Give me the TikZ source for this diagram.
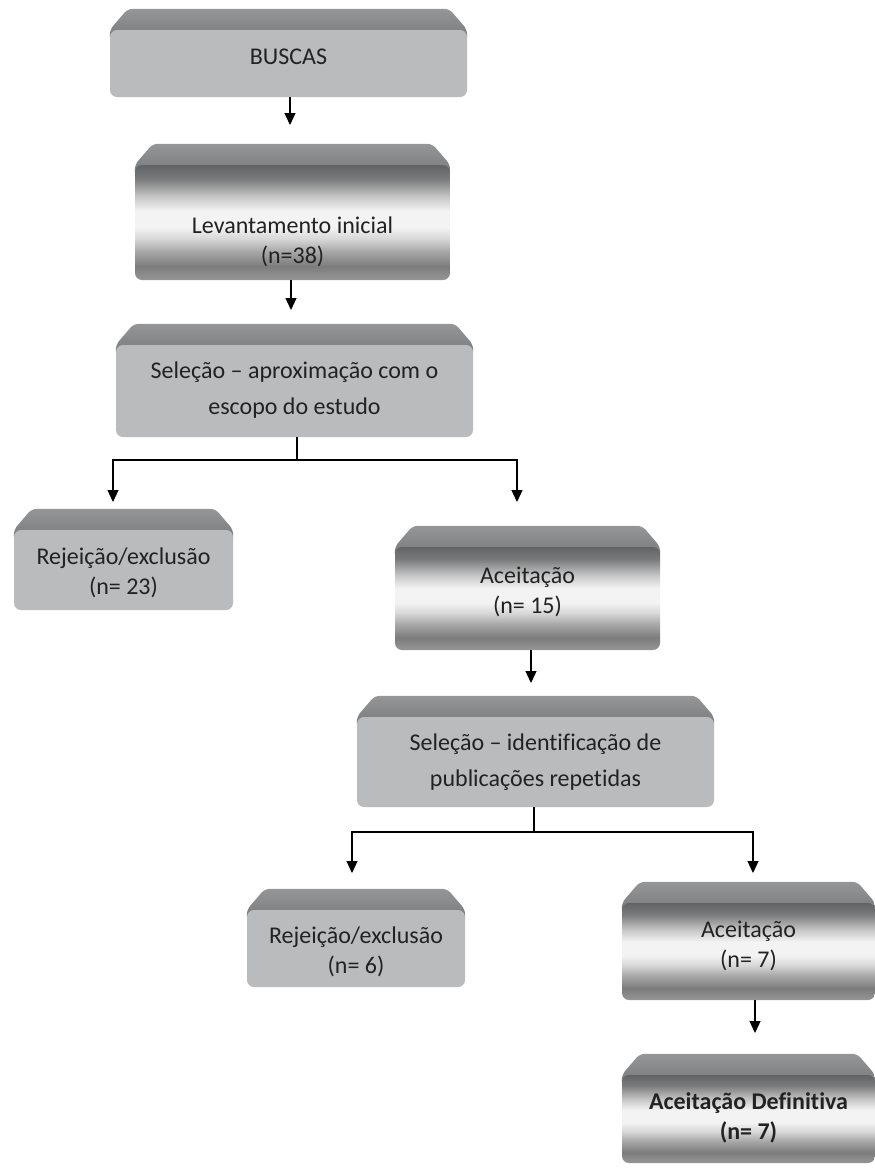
\documentclass[tikz,border=0pt]{standalone}
\usepackage{fontspec}
\setmainfont{Carlito}[Ligatures=NoCommon]
\usetikzlibrary{arrows.meta,backgrounds}
\definecolor{flatfill}{RGB}{185,187,188}
\definecolor{bevtop}{RGB}{148,150,152}
\definecolor{bevbot}{RGB}{118,120,122}
\definecolor{txtc}{RGB}{34,34,34}
\definecolor{ga}{RGB}{98,99,100}
\definecolor{gb}{RGB}{122,123,124}
\definecolor{gc}{RGB}{200,200,200}
\definecolor{gd}{RGB}{243,243,243}
\definecolor{ge}{RGB}{216,216,216}
\definecolor{gf}{RGB}{168,168,168}
\definecolor{gg}{RGB}{124,124,124}
\definecolor{gh}{RGB}{150,150,150}
\pgfdeclareverticalshading{gloss}{100bp}{color(0bp)=(gh); color(25bp)=(gh); color(31bp)=(gg); color(37.5bp)=(gf); color(43bp)=(ge); color(48bp)=(gd); color(55bp)=(gd); color(61bp)=(gc); color(69bp)=(gb); color(75bp)=(ga); color(100bp)=(ga)}
\tikzset{
  flatbox/.style={fill=flatfill, rounded corners=7pt, inner sep=0pt},
  glossbox/.style={shade, shading=gloss, rounded corners=7pt, inner sep=0pt},
  txt/.style={text=txtc, align=center, font=\fontsize{24}{29.5}\selectfont, inner sep=0pt},
  conn/.style={line width=1.2pt, black},
  arr/.style={conn, -{Triangle[length=12pt,width=11pt]}},
  bevelshade/.style={top color=bevtop, bottom color=bevbot, rounded corners=5pt}
}
\newcommand\bevelof[1]{%
  \begin{pgfonlayer}{background}
  \shade[bevelshade] ([yshift=-12pt]#1.north west) -- (#1.north west)
    -- ([xshift=18pt,yshift=21pt]#1.north west) -- ([xshift=-18pt,yshift=21pt]#1.north east)
    -- (#1.north east) -- ([yshift=-12pt]#1.north east) -- cycle;
  \end{pgfonlayer}}
\begin{document}
\begin{tikzpicture}[x=1pt,y=-1pt]
\useasboundingbox (0,0) rectangle (875,1168);
% boxes (front faces)
\node[flatbox,  minimum width=357pt, minimum height=67pt]  (b1) at (288.5,63.5) {};
\node[glossbox, minimum width=315pt, minimum height=115pt] (b2) at (292.5,222.5) {};
\node[flatbox,  minimum width=357pt, minimum height=92pt]  (b3) at (294.5,391) {};
\node[flatbox,  minimum width=219pt, minimum height=80pt]  (b4) at (123.5,570) {};
\node[glossbox, minimum width=265pt, minimum height=103pt] (b5) at (527.5,598.5) {};
\node[flatbox,  minimum width=357pt, minimum height=90pt]  (b6) at (535.5,762) {};
\node[flatbox,  minimum width=218pt, minimum height=77pt]  (b7) at (356,948.5) {};
\node[glossbox, minimum width=253pt, minimum height=97pt]  (b8) at (748.5,951.5) {};
\node[glossbox, minimum width=253pt, minimum height=88pt]  (b9) at (748.5,1119) {};
\foreach \b in {b1,b2,b3,b4,b5,b6,b7,b8,b9}{\bevelof{\b}}
% texts
\node[txt] (t1) at (288.5,57) {BUSCAS};
\node[txt] (t2) at (292.5,242) {Levantamento inicial\\(n=38)};
\node[txt] (t3) at (294.5,390) {Seleção – aproximação com o\\[6pt]escopo do estudo};
\node[txt] (t4) at (123.5,573) {Rejeição/exclusão\\(n= 23)};
\node[txt] (t5) at (527.5,592) {Aceitação\\(n= 15)};
\node[txt] (t6) at (535.5,762) {Seleção – identificação de\\[6pt]publicações repetidas};
\node[txt] (t7) at (356,952) {Rejeição/exclusão\\(n= 6)};
\node[txt] (t8) at (748.5,946) {Aceitação\\(n= 7)};
\node[txt, font=\fontsize{24}{29.5}\selectfont\bfseries] (t9) at (748.5,1118) {Aceitação Definitiva\\(n= 7)};
% connectors
\coordinate (a2) at (290,125);
\coordinate (a3) at (291,310);
\coordinate (j3) at (297,460);
\coordinate (a4) at (113,502);
\coordinate (a5) at (517,502);
\coordinate (a6) at (531,683);
\coordinate (j6) at (534,832);
\coordinate (a7) at (352,873);
\coordinate (a8) at (753,873);
\coordinate (a9) at (755,1033);
\draw[arr] (b1.south -| a2) -- (a2);
\draw[arr] (b2.south -| a3) -- (a3);
\draw[conn] (b3.south -| j3) -- (j3);
\draw[arr] (j3) -| (a4);
\draw[arr] (j3) -| (a5);
\draw[arr] (b5.south -| a6) -- (a6);
\draw[conn] (b6.south -| j6) -- (j6);
\draw[arr] (j6) -| (a7);
\draw[arr] (j6) -| (a8);
\draw[arr] (b8.south -| a9) -- (a9);
\end{tikzpicture}
\end{document}
